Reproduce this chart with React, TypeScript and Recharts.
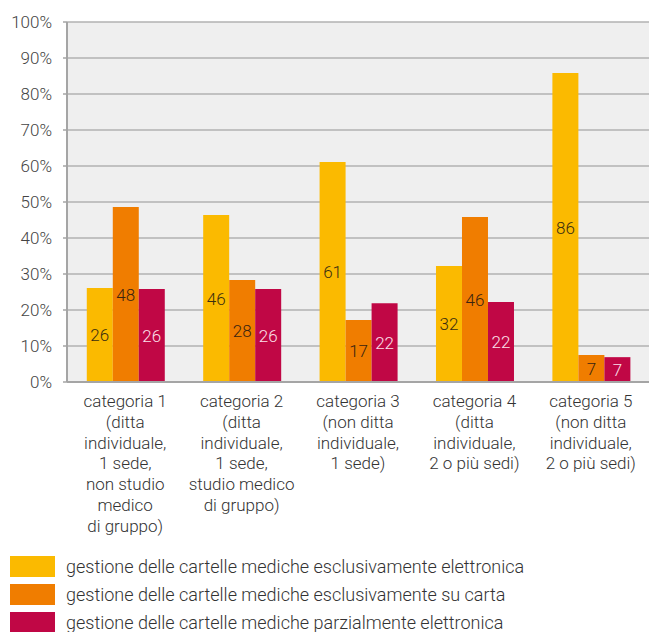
import React from 'react';
import { BarChart, Bar, XAxis, YAxis, CartesianGrid, Legend, LabelList } from 'recharts';

const categories = [
  'categoria 1\n(ditta\nindividuale,\n1 sede,\nnon studio\nmedico\ndi gruppo)',
  'categoria 2\n(ditta\nindividuale,\n1 sede,\nstudio medico\ndi gruppo)',
  'categoria 3\n(non ditta\nindividuale,\n1 sede)',
  'categoria 4\n(ditta\nindividuale,\n2 o più sedi)',
  'categoria 5\n(non ditta\nindividuale,\n2 o più sedi)',
];

const elettronica = [26.1, 46.4, 61.1, 32.2, 85.8];
const carta = [48.6, 28.3, 17.2, 45.8, 7.5];
const parziale = [25.8, 25.8, 21.9, 22.2, 6.9];

const elettronicaLabels = [26, 46, 61, 32, 86];
const cartaLabels = [48, 28, 17, 46, 7];
const parzialeLabels = [26, 26, 22, 22, 7];

const yTicks = [0, 10, 20, 30, 40, 50, 60, 70, 80, 90, 100];

const series = [
  { key: 'elettronica', label: 'lElettronica', name: 'gestione delle cartelle mediche esclusivamente elettronica', color: '#FBBA00', text: '#3a2e10' },
  { key: 'carta', label: 'lCarta', name: 'gestione delle cartelle mediche esclusivamente su carta', color: '#F07D00', text: '#3a2410' },
  { key: 'parziale', label: 'lParziale', name: 'gestione delle cartelle mediche parzialmente elettronica', color: '#C00745', text: '#fbe0ea' },
];

const data = categories.map((c, i) => ({
  categoria: c,
  elettronica: elettronica[i],
  carta: carta[i],
  parziale: parziale[i],
  lElettronica: elettronicaLabels[i],
  lCarta: cartaLabels[i],
  lParziale: parzialeLabels[i],
}));

const FONT = 'Roboto, sans-serif';

const CategoryTick = (props: any) => {
  const { x, y, payload } = props;
  const lines: string[] = String(payload.value).split('\n');
  return (
    <text x={x} y={y} textAnchor="middle" fill="#333" fontSize={17} fontFamily={FONT} fontWeight={300}>
      {lines.map((line, i) => (
        <tspan key={i} x={x} dy={i === 0 ? 17 : 20.8}>
          {line}
        </tspan>
      ))}
    </text>
  );
};

const LegendContent = () => (
  <div style={{ paddingTop: 11, fontFamily: FONT, fontWeight: 300, fontSize: 18, color: '#333' }}>
    {series.map((s) => (
      <div key={s.key} style={{ display: 'flex', alignItems: 'center', height: 21, marginBottom: 7 }}>
        <div style={{ width: 45, height: 21, background: s.color, marginLeft: 10, marginRight: 11 }} />
        <span>{s.name}</span>
      </div>
    ))}
  </div>
);

export default function App() {
  return (
    <div style={{ position: 'absolute', left: 0, top: 0 }}>
      <BarChart
        width={649}
        height={632}
        data={data}
        margin={{ top: 22, right: 0, left: 0, bottom: 0 }}
        barCategoryGap="17%"
        barGap={0}
      >
        <CartesianGrid vertical={false} stroke="#b2b2b2" strokeWidth={1.5} fill="#efefef" />
        <XAxis
          dataKey="categoria"
          height={163}
          interval={0}
          tickLine={false}
          axisLine={{ stroke: '#a5a5a5', strokeWidth: 2 }}
          tick={<CategoryTick />}
        />
        <YAxis
          width={67}
          domain={[0, 100]}
          ticks={yTicks}
          interval={0}
          tickFormatter={(v) => `${v}%`}
          tickSize={4}
          tickMargin={11}
          tickLine={{ stroke: '#a5a5a5', strokeWidth: 1.5 }}
          axisLine={{ stroke: '#a5a5a5', strokeWidth: 2 }}
          tick={{ fill: '#444', fontSize: 17, fontFamily: FONT, fontWeight: 300 }}
        />
        <Legend
          verticalAlign="bottom"
          height={87}
          content={<LegendContent />}
          wrapperStyle={{ left: 0, top: 545, width: 649 }}
        />
        {series.map((s) => (
          <Bar key={s.key} dataKey={s.key} name={s.name} fill={s.color} isAnimationActive={false}>
            <LabelList
              dataKey={s.label}
              position="center"
              fill={s.text}
              fontSize={17}
              fontFamily={FONT}
              fontWeight={300}
            />
          </Bar>
        ))}
      </BarChart>
    </div>
  );
}
